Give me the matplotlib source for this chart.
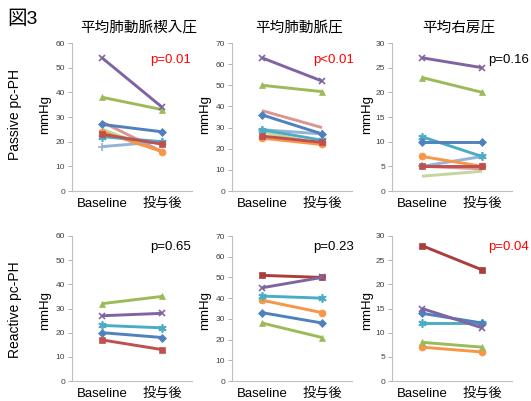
import matplotlib
matplotlib.use('Agg')
import matplotlib.pyplot as plt

plt.rcParams['font.family'] = ['Liberation Sans', 'Noto Sans CJK JP', 'DejaVu Sans']

W, H = 531, 401

categories = ['Baseline', '投与後']
titles = ['平均肺動脈楔入圧', '平均肺動脈圧', '平均右房圧']
row_labels = ['Passive pc-PH', 'Reactive pc-PH']
ymax = [60, 70, 30]
ystep = [10, 10, 5]

# couleurs par defaut d'Excel
blue = '#4F81BD'
red = '#C0504D'
darkred = '#AA3E3B'
green = '#9BBB59'
purple = '#8064A2'
aqua = '#4BACC6'
orange = '#F79646'
lblue = '#95B3D7'
pink = '#D99694'
lgreen = '#C3D69B'

# (baseline, apres) par patient
passive_pcwp = {'blue': [27, 24], 'red': [23, 19], 'green': [38, 33], 'purple': [54, 34],
                'aqua': [22, 20], 'orange': [24, 16], 'lblue': [18, 20], 'pink': [28, 16],
                'lgreen': [25, 16]}
passive_mpap = {'blue': [36, 27], 'red': [26, 23], 'green': [50, 47], 'purple': [63, 52],
                'aqua': [29, 24], 'orange': [25, 22], 'lblue': [29, 27], 'pink': [38, 30],
                'lgreen': [28, 22]}
passive_rap = {'blue': [10, 10], 'red': [5, 5], 'green': [23, 20], 'purple': [27, 25],
               'aqua': [11, 7], 'orange': [7, 5], 'lblue': [5, 7], 'pink': [5, 4.5],
               'lgreen': [3, 4]}
reactive_pcwp = {'blue': [20, 18], 'red': [17, 13], 'green': [32, 35], 'purple': [27, 28],
                 'aqua': [23, 22]}
reactive_mpap = {'blue': [33, 28], 'darkred': [51, 50], 'green': [28, 21], 'purple': [45, 50],
                 'aqua': [41, 40], 'orange': [39, 33]}
reactive_rap = {'blue': [14, 12], 'darkred': [28, 23], 'green': [8, 7], 'purple': [15, 11],
                'aqua': [12, 12], 'orange': [7, 6]}

pvalues = [['p=0.01', 'p<0.01', 'p=0.16'], ['p=0.65', 'p=0.23', 'p=0.04']]
pcolors = [['red', 'red', 'black'], ['black', 'black', 'red']]

styles = {'blue': (blue, 'D', 4), 'red': (red, 's', 4.5), 'darkred': (darkred, 's', 4.5),
          'green': (green, '^', 5), 'purple': (purple, 'x', 5), 'aqua': (aqua, (6, 2, 0), 6),
          'orange': (orange, 'o', 5), 'lblue': (lblue, '+', 6), 'pink': (pink, None, 0),
          'lgreen': (lgreen, None, 0)}
ordre = ['lgreen', 'pink', 'lblue', 'orange', 'aqua', 'darkred', 'red', 'blue', 'green', 'purple']
fins = ('x', '+', (6, 2, 0))

data = [[passive_pcwp, passive_mpap, passive_rap], [reactive_pcwp, reactive_mpap, reactive_rap]]

fig = plt.figure(figsize=(W / 100, H / 100), dpi=100)

lefts = [72, 232, 392]
rows = [(43, 191), (236, 381)]
ptext_x = [150, 313, 488]
ptext_y = [60, 247]
mm_x = [45, 205, 367]
mm_y = [115, 310]

for r in range(2):
    top, bot = rows[r]
    for c in range(3):
        ax = fig.add_axes([lefts[c] / W, 1 - bot / H, 120 / W, (bot - top) / H])
        d = data[r][c]
        for k in ordre:
            if k not in d:
                continue
            col, mk, ms = styles[k]
            ax.plot([0, 1], d[k], color=col, lw=2.1, marker=mk, ms=ms,
                    mew=1.2 if mk in fins else 0.5, mec=col,
                    solid_capstyle='butt', clip_on=False)
        ax.set_xlim(-0.5, 1.5)
        ax.set_ylim(0, ymax[c])
        ax.set_yticks(range(0, ymax[c] + 1, ystep[c]))
        ax.set_xticks([0, 1])
        ax.set_xticklabels(categories, fontsize=9.5)
        ax.tick_params(axis='x', length=0, pad=5)
        ax.tick_params(axis='y', length=3, width=0.6, color='#A6A6A6', labelsize=6,
                       labelcolor='#404040', pad=2)
        for s in ['top', 'right']:
            ax.spines[s].set_visible(False)
        for s in ['left', 'bottom']:
            ax.spines[s].set_color('#BFBFBF')
            ax.spines[s].set_linewidth(0.8)
        fig.text(ptext_x[c] / W, 1 - ptext_y[r] / H, pvalues[r][c], color=pcolors[r][c],
                 fontsize=9.5, va='center', ha='left')
        fig.text(mm_x[c] / W, 1 - mm_y[r] / H, 'mmHg', rotation=90, fontsize=9.5,
                 va='center', ha='center')
        if r == 0:
            fig.text((lefts[c] + 67) / W, 1 - 28 / H, titles[c], fontsize=10.5,
                     ha='center', va='center')

fig.text(15 / W, 1 - 115 / H, row_labels[0], rotation=90, fontsize=10, va='center', ha='center')
fig.text(15 / W, 1 - 310 / H, row_labels[1], rotation=90, fontsize=10, va='center', ha='center')
fig.text(7 / W, 1 - 19 / H, '図3', fontsize=14, va='center', ha='left')

fig.savefig('out.png', dpi=100)
